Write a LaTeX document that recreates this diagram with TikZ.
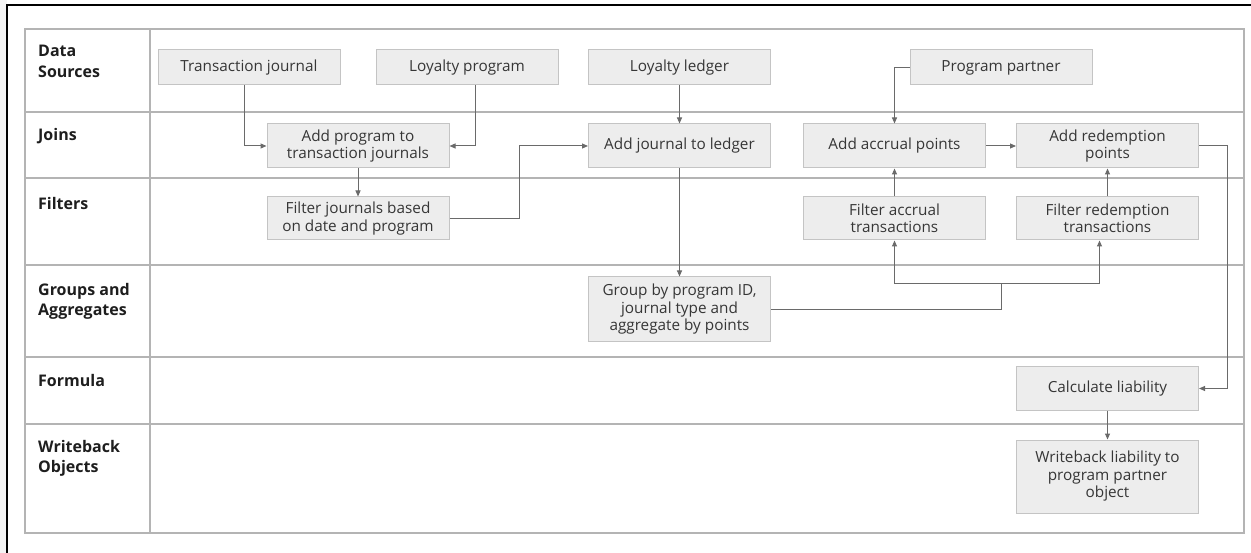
\documentclass[tikz,border=0pt]{standalone}
\usepackage{fontspec}
\setmainfont{Open Sans}
\usetikzlibrary{arrows.meta}
\definecolor{boxfill}{HTML}{EDEDED}
\definecolor{boxline}{HTML}{C4C4C4}
\definecolor{gridline}{HTML}{B4B4B4}
\definecolor{conn}{HTML}{6A6A6A}
\definecolor{boxtext}{HTML}{363636}
\definecolor{labtext}{HTML}{1E1E1E}
\definecolor{stripgrey}{HTML}{F4F4F4}
\tikzset{
  stepbox/.style={draw=boxline, fill=boxfill, line width=1pt, minimum width=182pt,
    inner sep=0pt, align=center, text=boxtext,
    font=\fontsize{15.3}{17.5}\selectfont},
  lanelabel/.style={anchor=north west, inner sep=0pt, align=left, text=labtext,
    font=\fontsize{16}{20.5}\selectfont\bfseries},
  conn/.style={draw=conn, line width=1pt},
  arr/.style={conn, -{Triangle[length=6pt,width=5pt]}},
}
\begin{document}
\begin{tikzpicture}[x=1pt,y=-1pt]
\useasboundingbox (0,0) rectangle (1251,553);
\fill[white] (0,0) rectangle (1251,553);
\fill[stripgrey] (0,0) rectangle (7,553);
\draw[black, line width=1.5pt] (7,553) -- (7,5) -- (1251,5);
% table grid
\draw[gridline, line width=1.2pt] (25,29) rectangle (1244,533);
\foreach \yy in {112,178,265,357,424} \draw[gridline, line width=1.2pt] (25,\yy) -- (1244,\yy);
\draw[gridline, line width=1.2pt] (150,29) -- (150,533);
% lane labels
\node[lanelabel] (l1) at (38,45) {Data\\Sources};
\node[lanelabel] (l2) at (38,128) {Joins};
\node[lanelabel] (l3) at (38,197) {Filters};
\node[lanelabel] (l4) at (38,283) {Groups and\\Aggregates};
\node[lanelabel] (l5) at (38,374) {Formula};
\node[lanelabel] (l6) at (38,440) {Writeback\\Objects};
% boxes
\node[stepbox, minimum height=35pt] (tj) at (249,67.5) {Transaction journal};
\node[stepbox, minimum height=35pt] (lp) at (467,67.5) {Loyalty program};
\node[stepbox, minimum height=35pt] (ll) at (679.5,67.5) {Loyalty ledger};
\node[stepbox, minimum height=35pt] (pp) at (1001,67.5) {Program partner};
\node[stepbox, minimum height=44pt] (ap) at (358,146) {Add program to\\transaction journals};
\node[stepbox, minimum height=44pt] (aj) at (679.5,146) {Add journal to ledger};
\node[stepbox, minimum height=44pt] (aa) at (894.5,146) {Add accrual points};
\node[stepbox, minimum height=44pt] (ar) at (1107.5,146) {Add redemption\\points};
\node[stepbox, minimum height=43pt] (fj) at (358,218.5) {Filter journals based\\on date and program};
\node[stepbox, minimum height=43pt] (fa) at (894.5,218.5) {Filter accrual\\transactions};
\node[stepbox, minimum height=43pt] (fr) at (1107.5,218.5) {Filter redemption\\transactions};
\node[stepbox, minimum height=65pt] (gp) at (679.5,309.5) {Group by program ID,\\journal type and\\aggregate by points};
\node[stepbox, minimum height=43pt] (cl) at (1107.5,388.5) {Calculate liability};
\node[stepbox, minimum height=73pt] (wb) at (1107.5,476.5) {Writeback liability to\\program partner\\object};
% connectors
\draw[arr] ([xshift=-5pt]tj.south) |- (ap.west);
\draw[arr] ([xshift=8pt]lp.south) |- (ap.east);
\draw[arr] (ll.south) -- (aj.north);
\draw[arr] (ap.south) -- (fj.north);
\draw[arr] (fj.east) -- ++(70,0) |- (aj.west);
\draw[arr] (aj.south) -- (gp.north);
\draw[arr] (pp.west) -| (aa.north);
\draw[arr] (aa.east) -- (ar.west);
\draw[arr] (fa.north) -- (aa.south);
\draw[arr] (fr.north) -- (ar.south);
\coordinate (jn) at (1001,284);
\draw[conn] (gp.east) -| (jn);
\draw[arr] (jn) -| (fa.south);
\draw[arr] (jn) -| ([xshift=-8pt]fr.south);
\draw[arr] (ar.east) -- ++(28,0) |- (cl.east);
\draw[arr] (cl.south) -- (wb.north);
\end{tikzpicture}
\end{document}
